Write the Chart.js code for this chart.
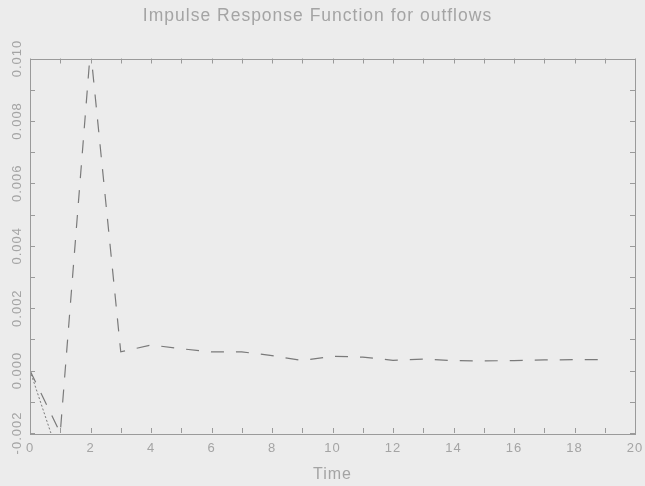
<!DOCTYPE html>
<html>
<head>
<meta charset="utf-8">
<title>Impulse Response Function for outflows</title>
<script src="https://cdn.jsdelivr.net/npm/chart.js@4.4.0/dist/chart.umd.min.js"></script>
<style>
  html, body { margin: 0; padding: 0; background: #ececec; }
  #wrap { width: 645px; height: 486px; }
</style>
</head>
<body>
<div id="wrap"><canvas id="irfChart"></canvas></div>
<script>
// response of outflows to the shock, period by period
const timeSteps = [0, 1, 2, 3, 4, 5, 6, 7, 8, 9, 10, 11, 12, 13, 14, 15, 16, 17, 18, 19];
const outflowResponse = [0, -0.002, 0.0103, 0.0006, 0.00082, 0.0007, 0.0006, 0.0006, 0.00048, 0.00032,
  0.00046, 0.00043, 0.00033, 0.00037, 0.00032, 0.00031, 0.00032, 0.00034, 0.00035, 0.00035];
// second response only shows its first step before leaving the plot
const ownSteps = [0, 1];
const ownResponse = [0, -0.0029];

const xTickLabels = ['0', '2', '4', '6', '8', '10', '12', '14', '16', '18', '20'];
const yTickLabels = ['-0.002', '0.000', '0.002', '0.004', '0.006', '0.008', '0.010'];

const textGray = '#a4a4a4';
const lineGray = '#7a7a7a';
const fontFamily = '"Liberation Sans", Arial, Helvetica, sans-serif';

const toPoints = (xs, ys) => xs.map((t, i) => ({ x: t, y: ys[i] }));

// box round the plot with short inward ticks on all four sides
const boxTicks = {
  id: 'boxTicks',
  beforeUpdate(chart) { chart.ctx.letterSpacing = '1px'; },
  beforeDraw(chart) { chart.ctx.letterSpacing = '1px'; },
  afterDatasetsDraw(chart) {
    const { ctx, chartArea: a, scales: { x, y } } = chart;
    const len = 5;
    ctx.save();
    ctx.strokeStyle = '#9a9a9a';
    ctx.lineWidth = 1;
    ctx.strokeRect(Math.round(a.left) + 0.5, Math.round(a.top) + 0.5, Math.round(a.width), Math.round(a.height));
    ctx.beginPath();
    x.ticks.forEach(t => {
      const px = Math.round(x.getPixelForValue(t.value)) + 0.5;
      ctx.moveTo(px, a.bottom); ctx.lineTo(px, a.bottom - len);
      ctx.moveTo(px, a.top); ctx.lineTo(px, a.top + len);
    });
    y.ticks.forEach(t => {
      const py = Math.round(y.getPixelForValue(t.value)) + 0.5;
      ctx.moveTo(a.left, py); ctx.lineTo(a.left + len, py);
      ctx.moveTo(a.right, py); ctx.lineTo(a.right - len, py);
    });
    ctx.stroke();
    ctx.restore();
  }
};

new Chart(document.getElementById('irfChart'), {
  type: 'line',
  data: {
    datasets: [
      {
        data: toPoints(timeSteps, outflowResponse),
        borderColor: lineGray,
        borderWidth: 1.2,
        borderDash: [13, 12],
        pointRadius: 0,
        tension: 0,
        clip: 0
      },
      {
        data: toPoints(ownSteps, ownResponse),
        borderColor: lineGray,
        borderWidth: 1,
        borderDash: [2, 2],
        pointRadius: 0,
        tension: 0,
        clip: 0
      }
    ]
  },
  options: {
    responsive: true,
    maintainAspectRatio: false,
    animation: false,
    events: [],
    layout: { autoPadding: false, padding: { left: 0, right: 10, top: 0, bottom: 0 } },
    plugins: {
      legend: { display: false },
      tooltip: { enabled: false },
      title: {
        display: true,
        text: 'Impulse Response Function for outflows',
        color: textGray,
        font: { family: fontFamily, size: 17.5, weight: 'normal' },
        padding: { top: 5.5, bottom: 32 }
      }
    },
    scales: {
      x: {
        type: 'linear',
        min: 0,
        max: 20,
        afterFit(s) { s.height = 53; s.paddingLeft = 0; s.paddingRight = 0; },
        grid: { display: false, drawTicks: false },
        border: { display: false },
        ticks: {
          stepSize: 1,
          autoSkip: false,
          maxRotation: 0,
          padding: 8,
          color: textGray,
          font: { family: fontFamily, size: 13 },
          callback: v => xTickLabels.includes(String(v)) ? String(v) : ''
        },
        title: {
          display: true,
          text: 'Time',
          color: textGray,
          font: { family: fontFamily, size: 16 },
          padding: { top: 0, bottom: 2 }
        }
      },
      y: {
        min: -0.002,
        max: 0.010,
        afterFit(s) { s.width = 30; s.paddingTop = 0; s.paddingBottom = 0; },
        grid: { display: false, drawTicks: false },
        border: { display: false },
        ticks: {
          stepSize: 0.001,
          autoSkip: false,
          minRotation: 90,
          maxRotation: 90,
          crossAlign: 'center',
          padding: -9,
          color: textGray,
          font: { family: fontFamily, size: 13 },
          callback: (v, i) => i % 2 === 0 ? yTickLabels[i / 2] : ''
        }
      }
    }
  },
  plugins: [boxTicks]
});
</script>
</body>
</html>
